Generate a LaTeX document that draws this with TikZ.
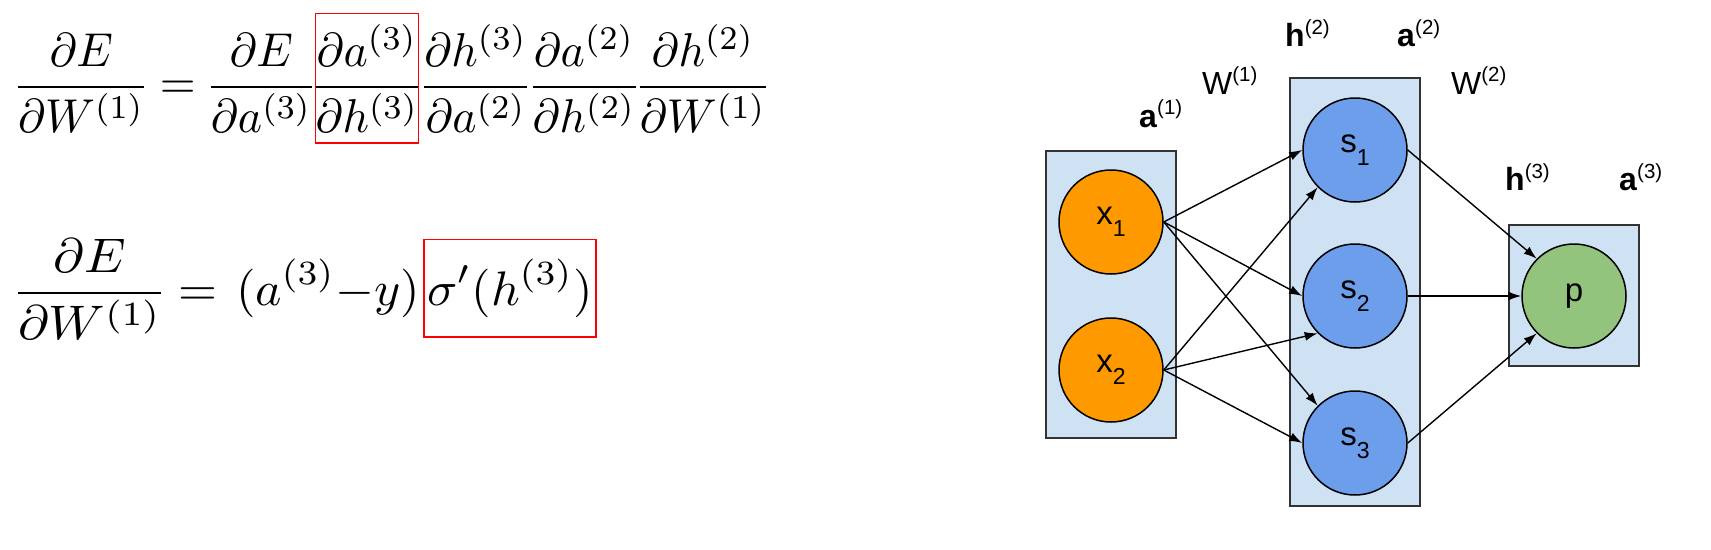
\documentclass[tikz,border=0pt]{standalone}
\usepackage{amsmath}
\usepackage{fontspec}
\usetikzlibrary{positioning,arrows.meta}

\newfontfamily\arialfont{Liberation Sans}
\definecolor{layerfill}{HTML}{CFE2F3}
\definecolor{inorange}{HTML}{FF9900}
\definecolor{hidblue}{HTML}{6D9EEB}
\definecolor{outgreen}{HTML}{93C47D}
\newcommand{\lsub}[1]{\raisebox{-0.38em}{\scalebox{0.7}{#1}}}
\newcommand{\lsupr}[1]{\raisebox{0.38em}{\scalebox{0.64}{#1}}}
% the equations are set at 10pt and blown up
\newcommand{\eqsmall}[1]{\scalebox{4.6}[4.75]{$\nulldelimiterspace=0pt\displaystyle #1$}}
\newcommand{\eqwide}[1]{\scalebox{5.22}[4.85]{$\nulldelimiterspace=0pt\displaystyle #1$}}
\newcommand{\eqlarge}[1]{\scalebox{5.0}[4.85]{$\nulldelimiterspace=0pt\displaystyle #1$}}

\begin{document}
\begin{tikzpicture}[
		x={(1pt,0pt)},
		y={(0pt,-1pt)},
		eqn/.style={inner sep=0pt},
		redbox/.style={draw=red,line width=1.5pt},
		layer/.style={draw=black!80,fill=layerfill,line width=1.5pt,inner sep=0pt,minimum width=130pt},
		unit/.style={circle,draw=black,line width=1.5pt,minimum size=104pt,inner sep=0pt,font=\arialfont\fontsize{33}{40}\selectfont},
		lbl/.style={inner sep=0pt,anchor=base west,font=\arialfont\fontsize{32}{38}\selectfont},
		conn/.style={-{Latex[length=13pt,width=9pt]},line width=1.4pt},
	]
	\useasboundingbox (0,0) rectangle (1711,549);

	% first line
	\node[eqn,anchor=base west] (lhsA) at (18,98.6) {\eqsmall{\frac{\partial E}{\partial W^{(1)}}}};
	\node[eqn,base right=15pt of lhsA] (eqA) {\eqsmall{=}};
	\node[eqn,base right=15pt of eqA] (fA1) {\eqsmall{\frac{\partial E}{\partial a^{(3)}}}};
	\node[eqn,redbox,inner ysep=11pt,base right=3pt of fA1] (fA2) {\eqsmall{\frac{\partial a^{(3)}}{\partial h^{(3)}}}};
	\node[eqn,base right=5pt of fA2] (fA3) {\eqsmall{\frac{\partial h^{(3)}}{\partial a^{(2)}}}};
	\node[eqn,base right=5pt of fA3] (fA4) {\eqsmall{\frac{\partial a^{(2)}}{\partial h^{(2)}}}};
	\node[eqn,base right=4pt of fA4] (fA5) {\eqsmall{\frac{\partial h^{(2)}}{\partial W^{(1)}}}};

	% second line
	\node[eqn,anchor=base west] (lhsB) at (18,305) {\eqwide{\frac{\partial E}{\partial W^{(1)}}}};
	\node[eqn,base right=17pt of lhsB] (eqB) {\eqlarge{=}};
	\node[eqn,base right=18pt of eqB] (errB) {\eqlarge{(a^{(3)}{-}y)}};
	\node[eqn,redbox,inner xsep=3pt,inner ysep=20pt,base right=3pt of errB] (sigB) {\eqlarge{\sigma'(h^{(3)})}};

	% layers
	\node[layer,minimum height=287pt] (inbox) at (1111,294.5) {};
	\node[layer,minimum height=428pt] (hidbox) at (1355,292) {};
	\node[layer,minimum height=141pt] (outbox) at (1574,295.5) {};

	\foreach \n/\y in {1/222, 2/370}{
		\node[unit,fill=inorange] (x\n) at (1111,\y) {x\lsub{\n}};
	}
	\foreach \n/\y in {1/150, 2/296, 3/443}{
		\node[unit,fill=hidblue] (s\n) at (1355,\y) {s\lsub{\n}};
	}
	\node[unit,fill=outgreen] (p) at (1574,296) {p};

	\foreach \t/\a in {s1/west, s2/west, s3/north west}
		\draw[conn] (x1.east) -- (\t.\a);
	\foreach \t/\a in {s1/south west, s2/south west, s3/west}
		\draw[conn] (x2.east) -- (\t.\a);
	\foreach \n/\a in {1/north west, 2/west, 3/south west}
		\draw[conn] (s\n.east) -- (p.\a);

	% layer labels
	\node[lbl] (la1) at (1139,127) {\textbf{a}\lsupr{(1)}};
	\node[lbl] (lw1) at (1202,94) {W\lsupr{(1)}};
	\node[lbl] (lh2) at (1285,46.5) {\textbf{h}\lsupr{(2)}};
	\node[lbl] (la2) at (1397,46.5) {\textbf{a}\lsupr{(2)}};
	\node[lbl] (lw2) at (1451,94) {W\lsupr{(2)}};
	\node[lbl] (lh3) at (1505,190.5) {\textbf{h}\lsupr{(3)}};
	\node[lbl] (la3) at (1619,190.5) {\textbf{a}\lsupr{(3)}};
\end{tikzpicture}
\end{document}
